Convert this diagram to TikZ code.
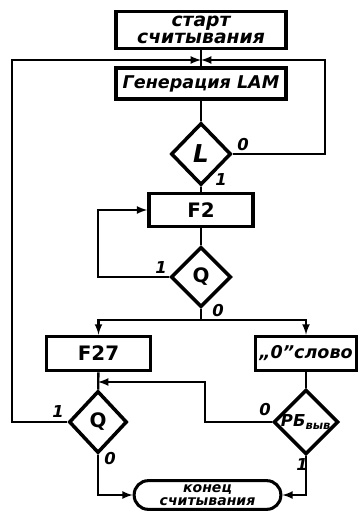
\documentclass[tikz,border=0pt]{standalone}
\usepackage{fontspec}
\setmainfont{DejaVu Sans}
\usetikzlibrary{shapes.geometric}
\pgfdeclarelayer{edgelayer}
\pgfdeclarelayer{nodelayer}
\pgfsetlayers{edgelayer,nodelayer,main}
\tikzstyle{block}=[rectangle, draw=black, fill=white, line width=3pt, inner sep=0pt, align=center, font=\fontsize{15}{15}\selectfont\bfseries\itshape]
\tikzstyle{test}=[diamond, aspect=1, draw=black, fill=white, line width=3pt, inner sep=0pt, font=\fontsize{17}{17}\selectfont\bfseries]
\tikzstyle{term}=[rectangle, rounded corners=0.42cm, draw=black, fill=white, line width=2.6pt, inner sep=0pt, align=center, font=\fontsize{12}{11.5}\selectfont\bfseries\itshape]
\tikzstyle{lbl}=[inner sep=0pt, font=\fontsize{14}{14}\selectfont\bfseries\itshape]
\tikzstyle{edge}=[draw=black, line width=2pt]
\tikzstyle{arrowedge}=[draw=black, line width=2pt, ->, >=latex]

\begin{document}
\begin{tikzpicture}[x=0.03cm, y=-0.03cm]
	\useasboundingbox (0,0) rectangle (359,517);
	\begin{pgfonlayer}{nodelayer}
		\node [style=block, minimum width=5.1cm, minimum height=1.12cm, font=\fontsize{16}{15}\selectfont\bfseries\itshape] (1) at (201, 30) {старт\\считывания};
		\node [style=block, minimum width=5.1cm, minimum height=0.92cm] (2) at (201, 83.5) {Генерация LAM};
		\node [style=test, minimum width=1.8cm, minimum height=1.86cm] (3) at (201, 154) {\fontsize{21}{21}\selectfont\itshape L};
		\node [style=block, minimum width=3.12cm, minimum height=1.0cm, font=\fontsize{17}{17}\selectfont\bfseries] (4) at (201, 210) {F2};
		\node [style=test, minimum width=1.8cm, minimum height=1.8cm] (5) at (201, 277) {Q};
		\node [style=block, minimum width=3.12cm, minimum height=1.03cm, font=\fontsize{17}{17}\selectfont\bfseries] (6) at (98.5, 353.5) {F27};
		\node [style=block, minimum width=3.03cm, minimum height=1.03cm] (7) at (306, 353.5) {„0”слово};
		\node [style=test, minimum width=1.74cm, minimum height=1.86cm] (8) at (98, 422) {Q};
		\node [style=test, minimum width=1.8cm, minimum height=1.86cm, font=\fontsize{14}{14}\selectfont\bfseries\itshape] (9) at (306, 422) {РБ\textsubscript{выв}};
		\node [style=term, minimum width=4.4cm, minimum height=0.86cm] (10) at (207.5, 495) {конец\\считывания};
		\coordinate (j0) at (201, 60);
		\coordinate (lc) at (12, 60);
		\coordinate (rc) at (325, 60);
		\coordinate (fl) at (98, 210);
		\coordinate (br) at (201, 320);
		\coordinate (rb) at (205, 382);
		\coordinate (mj) at (98, 382);
		\node [style=lbl] (l1) at (243, 145) {0};
		\node [style=lbl] (l2) at (221, 180) {1};
		\node [style=lbl] (l3) at (161, 268) {1};
		\node [style=lbl] (l4) at (218, 311) {0};
		\node [style=lbl] (l5) at (58, 412) {1};
		\node [style=lbl] (l6) at (110, 459) {0};
		\node [style=lbl] (l7) at (265, 410) {0};
		\node [style=lbl] (l8) at (302, 465) {1};
	\end{pgfonlayer}
	\begin{pgfonlayer}{edgelayer}
		\draw [style=edge] (1) to (2);
		\draw [style=arrowedge] (8.west) -| (lc) -- (j0);
		\draw [style=arrowedge] (3.east) -| (rc) -- (j0);
		\draw [style=edge] (2) to (3);
		\draw [style=edge] (3) to (4);
		\draw [style=edge] (4) to (5);
		\draw [style=arrowedge] (5.west) -| (fl) -- (4.west);
		\draw [style=edge] (5.south) -- (br);
		\draw [style=arrowedge] (br) -| (6.north);
		\draw [style=arrowedge] (br) -| (7.north);
		\draw [style=edge] (6) to (8);
		\draw [style=edge] (7) to (9);
		\draw [style=arrowedge] (9.west) -| (rb) -- (mj);
		\draw [style=arrowedge] (8.south) |- (10.west);
		\draw [style=arrowedge] (9.south) |- (10.east);
	\end{pgfonlayer}
\end{tikzpicture}
\end{document}
